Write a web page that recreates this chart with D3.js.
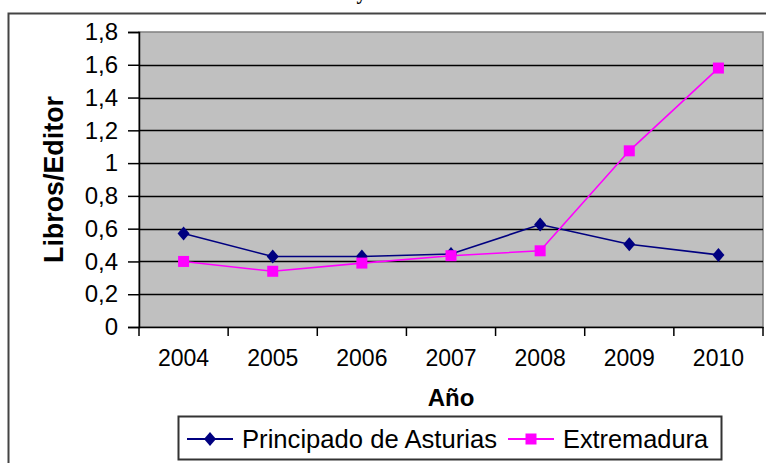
<!DOCTYPE html>
<html>
<head>
<meta charset="utf-8">
<script src="https://cdn.jsdelivr.net/npm/d3@7/dist/d3.min.js"></script>
<style>
  html, body { margin: 0; padding: 0; background: #fff; }
  svg { display: block; }
  text { font-family: Arial, "Liberation Sans", sans-serif; }
</style>
</head>
<body>
<svg id="chart" width="766" height="463"></svg>
<script>
var years = ["2004", "2005", "2006", "2007", "2008", "2009", "2010"];
var asturias = [0.57, 0.43, 0.43, 0.445, 0.625, 0.505, 0.44];
var extremadura = [0.40, 0.34, 0.39, 0.435, 0.465, 1.075, 1.58];
var yTicks = [0, 0.2, 0.4, 0.6, 0.8, 1, 1.2, 1.4, 1.6, 1.8];

var series = [
  {name: "Principado de Asturias", values: asturias, color: "#000080", marker: "diamond"},
  {name: "Extremadura", values: extremadura, color: "#ff00ff", marker: "square"}
];

var svg = d3.select("#chart");

var plot = {left: 139, top: 32, right: 763, bottom: 327};

var x = d3.scaleBand().domain(years).range([plot.left, plot.right]).padding(0);
var y = d3.scaleLinear().domain([0, 1.8]).range([plot.bottom, plot.top]);

var fmt = function(v) { return String(+v.toFixed(1)).replace(".", ","); };

/* outer chart frame, cut by the window */
svg.append("rect")
  .attr("x", 8.5).attr("y", 13.5)
  .attr("width", 800).attr("height", 500)
  .attr("fill", "none").attr("stroke", "#444").attr("stroke-width", 2);

/* title: the window only shows its descender */
svg.append("text")
  .attr("x", 383).attr("y", -1)
  .attr("text-anchor", "middle")
  .style("font-family", "'Liberation Serif', 'Times New Roman', serif")
  .style("font-weight", "bold").style("font-size", "20px")
  .text("Asturias y Extremadura");

/* plot area */
svg.append("rect")
  .attr("x", plot.left).attr("y", plot.top)
  .attr("width", plot.right - plot.left).attr("height", plot.bottom - plot.top)
  .attr("fill", "#c0c0c0").attr("stroke", "#808080").attr("stroke-width", 1.5);

/* gridlines */
svg.append("g").selectAll("line")
  .data(yTicks.filter(function(t) { return t > 0 && t < 1.8; }))
  .enter().append("line")
  .attr("x1", plot.left).attr("x2", plot.right)
  .attr("y1", function(d) { return Math.round(y(d)) + 0.5; })
  .attr("y2", function(d) { return Math.round(y(d)) + 0.5; })
  .attr("stroke", "#000").attr("stroke-width", 1.5);

/* y axis */
var yAxis = svg.append("g")
  .attr("transform", "translate(" + plot.left + ",0)")
  .call(d3.axisLeft(y).tickValues(yTicks).tickFormat(fmt).tickSize(11).tickPadding(10));
yAxis.select(".domain").attr("stroke", "#000").attr("stroke-width", 1.5);
yAxis.selectAll(".tick line").attr("stroke", "#000").attr("stroke-width", 1.5);
yAxis.selectAll(".tick text")
  .style("font-size", "24px").attr("fill", "#000")
  .style("font-family", "Arial, 'Liberation Sans', sans-serif");

/* x axis */
var xAxis = svg.append("g")
  .attr("transform", "translate(0," + plot.bottom + ")")
  .call(d3.axisBottom(x).tickSize(0).tickPadding(23));
xAxis.select(".domain").attr("stroke", "#000").attr("stroke-width", 1.5);
xAxis.selectAll(".tick text")
  .style("font-size", "23px").attr("fill", "#000")
  .style("font-family", "Arial, 'Liberation Sans', sans-serif");
xAxis.selectAll(".sep")
  .data(years.concat(["end"]))
  .enter().append("line")
  .attr("class", "sep")
  .attr("x1", function(d, i) { return plot.left + i * x.bandwidth(); })
  .attr("x2", function(d, i) { return plot.left + i * x.bandwidth(); })
  .attr("y1", 0).attr("y2", 9)
  .attr("stroke", "#000").attr("stroke-width", 1.5);

/* axis titles */
svg.append("text")
  .attr("transform", "translate(63," + ((plot.top + plot.bottom) / 2) + ") rotate(-90)")
  .attr("text-anchor", "middle")
  .attr("textLength", 167).attr("lengthAdjust", "spacingAndGlyphs")
  .style("font-weight", "bold").style("font-size", "27px")
  .text("Libros/Editor");

svg.append("text")
  .attr("x", (plot.left + plot.right) / 2).attr("y", 406)
  .attr("text-anchor", "middle")
  .style("font-weight", "bold").style("font-size", "24px")
  .text("Año");

/* markers */
function marker(sel, type, color) {
  if (type === "diamond") {
    sel.append("path")
      .attr("d", "M0,-7L6,0L0,7L-6,0Z")
      .attr("fill", color);
  } else {
    sel.append("rect")
      .attr("x", -5.5).attr("y", -5.5).attr("width", 11).attr("height", 11)
      .attr("fill", color);
  }
}

var line = d3.line()
  .x(function(d, i) { return x(years[i]) + x.bandwidth() / 2; })
  .y(function(d) { return y(d); });

series.forEach(function(s) {
  svg.append("path")
    .datum(s.values)
    .attr("d", line)
    .attr("fill", "none")
    .attr("stroke", s.color)
    .attr("stroke-width", 1.6);

  svg.append("g").selectAll("g")
    .data(s.values)
    .enter().append("g")
    .attr("transform", function(d, i) {
      return "translate(" + (x(years[i]) + x.bandwidth() / 2) + "," + y(d) + ")";
    })
    .each(function() { marker(d3.select(this), s.marker, s.color); });
});

/* legend */
var legend = svg.append("g");
legend.append("rect")
  .attr("x", 178.5).attr("y", 416.5)
  .attr("width", 543).attr("height", 43)
  .attr("fill", "#fff").attr("stroke", "#333").attr("stroke-width", 2);

var legendX = [187, 508];
var legendLen = [255, 145];
series.forEach(function(s, i) {
  var g = legend.append("g").attr("transform", "translate(" + legendX[i] + ",439)");
  g.append("line")
    .attr("x1", 0).attr("x2", 46).attr("y1", 0).attr("y2", 0)
    .attr("stroke", s.color).attr("stroke-width", 2);
  g.append("g").attr("transform", "translate(23,0)")
    .each(function() { marker(d3.select(this), s.marker, s.color); });
  g.append("text")
    .attr("x", 55).attr("y", 9)
    .attr("textLength", legendLen[i]).attr("lengthAdjust", "spacingAndGlyphs")
    .style("font-size", "25px")
    .text(s.name);
});
</script>
</body>
</html>
